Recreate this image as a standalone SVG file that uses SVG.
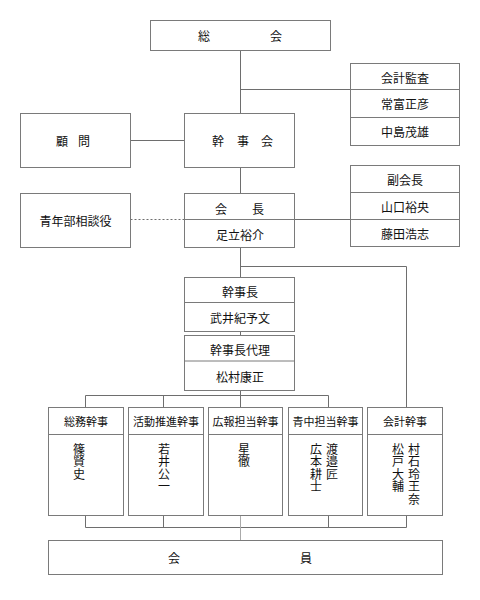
<svg xmlns="http://www.w3.org/2000/svg" width="480" height="600" viewBox="0 0 480 600">
<style>
rect.b{fill:#fff;stroke:#7a7a7a;stroke-width:1}
line.d,path.d{stroke:#7a7a7a;stroke-width:1;fill:none}
.c line,.c path{stroke:#6e6e6e;stroke-width:1;fill:none}
text{font-family:"Noto Sans CJK JP","Noto Sans CJK SC",sans-serif;font-size:12px;fill:#111;text-anchor:middle;dominant-baseline:central}
text.s{font-size:11px}
text.v{writing-mode:vertical-rl;text-anchor:start;letter-spacing:0.5px}
</style>
<rect width="480" height="600" fill="#fff"/>
<g class="c" id="connectors">
<line x1="240.5" y1="50.5" x2="240.5" y2="113.5"/>
<line x1="240.5" y1="89.5" x2="350.5" y2="89.5"/>
<line x1="130.5" y1="140.5" x2="184.5" y2="140.5"/>
<line x1="240.5" y1="167.5" x2="240.5" y2="193.5"/>
<line x1="130.5" y1="219.5" x2="184.5" y2="219.5" stroke-dasharray="2,2"/>
<line x1="294.5" y1="219.5" x2="350.5" y2="219.5"/>
<line x1="240.5" y1="247.5" x2="240.5" y2="277.5"/>
<path d="M240.5 266.5H406.5V407.5"/>
<line x1="240.5" y1="331.5" x2="240.5" y2="335.5"/>
<line x1="240.5" y1="390.5" x2="240.5" y2="407.5"/>
<line x1="85.5" y1="395.5" x2="328.5" y2="395.5"/>
<line x1="85.5" y1="395.5" x2="85.5" y2="407.5"/>
<line x1="163.5" y1="395.5" x2="163.5" y2="407.5"/>
<line x1="328.5" y1="395.5" x2="328.5" y2="407.5"/>
<path d="M85.5 515.5V527.5H406.5V515.5"/>
<line x1="163.5" y1="515.5" x2="163.5" y2="527.5"/>
<line x1="328.5" y1="515.5" x2="328.5" y2="527.5"/>
<line x1="240.5" y1="515.5" x2="240.5" y2="540.5" style="stroke:#aaa"/>
</g>
<g id="soukai"><rect class="b" x="150.5" y="20.5" width="180" height="30"/><text x="204" y="35">総</text><text x="276" y="35">会</text></g>
<g id="kaikei-kansa"><rect class="b" x="350.5" y="63.5" width="109" height="82"/><line class="d" x1="350.5" y1="89.5" x2="459.5" y2="89.5"/><line class="d" x1="350.5" y1="117.5" x2="459.5" y2="117.5"/><text x="405" y="77">会計監査</text><text x="405" y="103.5">常富正彦</text><text x="405" y="131">中島茂雄</text></g>
<g id="komon"><rect class="b" x="20.5" y="113.5" width="110" height="54"/><text x="62" y="140.5">顧</text><text x="84" y="140.5">問</text></g>
<g id="kanjikai"><rect class="b" x="184.5" y="113.5" width="110" height="54"/><text x="218" y="140.5">幹</text><text x="243" y="140.5">事</text><text x="267" y="140.5">会</text></g>
<g id="fukukaicho"><rect class="b" x="350.5" y="165.5" width="109" height="81"/><line class="d" x1="350.5" y1="192.5" x2="459.5" y2="192.5"/><line class="d" x1="350.5" y1="219.5" x2="459.5" y2="219.5"/><text x="405" y="179">副会長</text><text x="405" y="206.5">山口裕央</text><text x="405" y="233.5">藤田浩志</text></g>
<g id="seinenbu"><rect class="b" x="20.5" y="193.5" width="110" height="54"/><text x="75.5" y="220.5">青年部相談役</text></g>
<g id="kaicho"><rect class="b" x="184.5" y="193.5" width="110" height="54"/><line class="d" x1="184.5" y1="219.5" x2="294.5" y2="219.5"/><text x="221" y="208">会</text><text x="258" y="208">長</text><text x="240" y="234.5">足立裕介</text></g>
<g id="kanjicho"><rect class="b" x="184.5" y="277.5" width="110" height="54"/><line class="d" x1="184.5" y1="302.5" x2="294.5" y2="302.5"/><text x="240" y="291">幹事長</text><text x="240" y="317.5">武井紀予文</text></g>
<g id="kanjicho-dairi"><rect class="b" x="184.5" y="335.5" width="110" height="55"/><line class="d" x1="184.5" y1="361" x2="294.5" y2="361"/><text x="240" y="349">幹事長代理</text><text x="240" y="376">松村康正</text></g>
<g id="soumu"><rect class="b" x="48.5" y="407.5" width="75" height="108"/><line class="d" x1="48.5" y1="434.5" x2="123.5" y2="434.5"/><text class="s" x="86" y="421">総務幹事</text>
<text class="v" x="79" y="443">篠賢史</text></g>
<g id="katsudo"><rect class="b" x="128.5" y="407.5" width="75" height="108"/><line class="d" x1="128.5" y1="434.5" x2="203.5" y2="434.5"/><text class="s" x="166" y="421">活動推進幹事</text>
<text class="v" x="164" y="443">若井公一</text></g>
<g id="koho"><rect class="b" x="208.5" y="407.5" width="74" height="108"/><line class="d" x1="208.5" y1="434.5" x2="282.5" y2="434.5"/><text class="s" x="245.5" y="421">広報担当幹事</text>
<text class="v" x="244" y="443">星徹</text></g>
<g id="seichu"><rect class="b" x="288.5" y="407.5" width="74" height="108"/><line class="d" x1="288.5" y1="434.5" x2="362.5" y2="434.5"/><text class="s" x="325.5" y="421">青中担当幹事</text>
<text class="v" x="316" y="443">広本耕士</text>
<text class="v" x="332" y="443">渡邉匠</text></g>
<g id="kaikei"><rect class="b" x="367.5" y="407.5" width="75" height="108"/><line class="d" x1="367.5" y1="434.5" x2="442.5" y2="434.5"/><text class="s" x="405" y="421">会計幹事</text>
<text class="v" x="398" y="443">松戸大輔</text>
<text class="v" x="414" y="443">村石玲王奈</text></g>
<g id="kaiin"><rect class="b" x="48.5" y="540.5" width="394" height="34"/><text x="174" y="557">会</text><text x="306" y="557">員</text></g>
</svg>
